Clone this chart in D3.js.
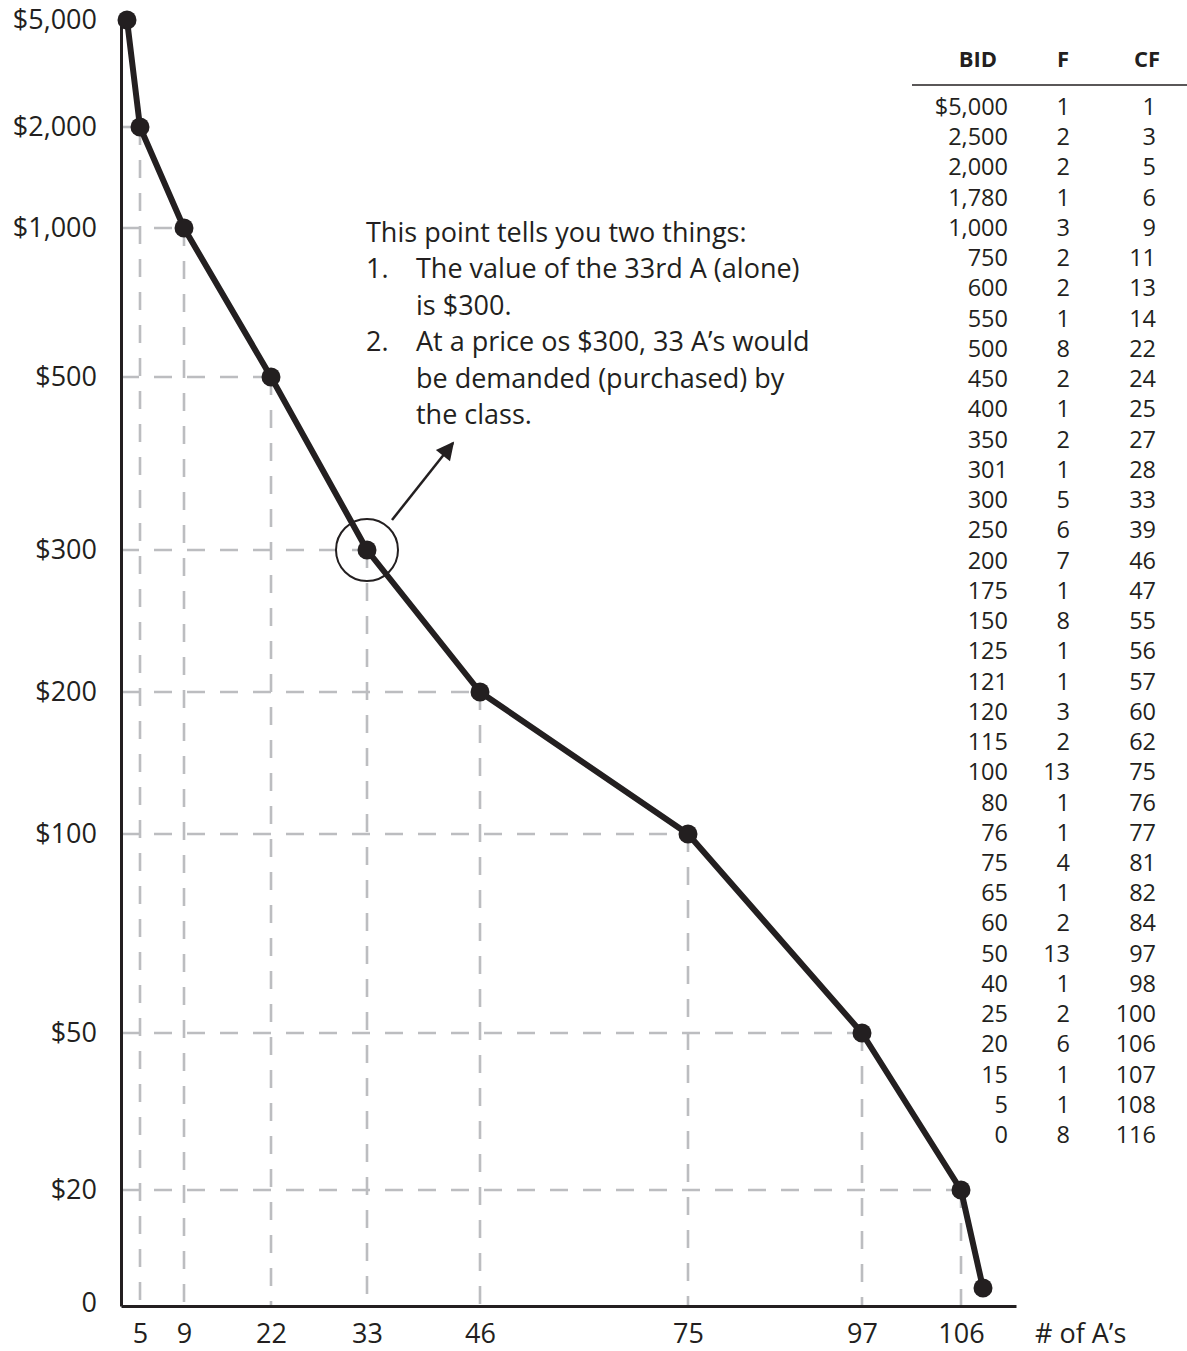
<!DOCTYPE html>
<html>
<head>
<meta charset="utf-8">
<script src="https://cdn.jsdelivr.net/npm/d3@7"></script>
<style>
  body { margin: 0; background: #fff; }
  svg text { font-family: "Open Sans", sans-serif; fill: #231f20; }
</style>
</head>
<body>
<div id="chart"></div>
<script>
// demand curve points (cumulative frequency vs bid)
const cfPoints = [1, 5, 9, 22, 33, 46, 75, 97, 106, 108];
const bidPoints = [5000, 2000, 1000, 500, 300, 200, 100, 50, 20, 5];

// axis ticks
const xTicks = [5, 9, 22, 33, 46, 75, 97, 106];
const yTicks = [0, 20, 50, 100, 200, 300, 500, 1000, 2000, 5000];

// table
const tableBids = ['$5,000', '2,500', '2,000', '1,780', '1,000', '750', '600', '550', '500', '450',
  '400', '350', '301', '300', '250', '200', '175', '150', '125', '121', '120', '115', '100',
  '80', '76', '75', '65', '60', '50', '40', '25', '20', '15', '5', '0'];
const tableF = [1, 2, 2, 1, 3, 2, 2, 1, 8, 2, 1, 2, 1, 5, 6, 7, 1, 8, 1, 1, 3, 2, 13,
  1, 1, 4, 1, 2, 13, 1, 2, 6, 1, 1, 8];
const tableCF = [1, 3, 5, 6, 9, 11, 13, 14, 22, 24, 25, 27, 28, 33, 39, 46, 47, 55, 56, 57,
  60, 62, 75, 76, 77, 81, 82, 84, 97, 98, 100, 106, 107, 108, 116];

const noteLines = [
  { num: '', text: 'This point tells you two things:' },
  { num: '1.', text: 'The value of the 33rd A (alone)' },
  { num: '', text: 'is $300.' },
  { num: '2.', text: 'At a price os $300, 33 A\u2019s would' },
  { num: '', text: 'be demanded (purchased) by' },
  { num: '', text: 'the class.' }
];

const width = 1187, height = 1351;
const ink = '#231f20', grid = '#bcbdc0';

const svg = d3.select('#chart').append('svg')
  .attr('width', width)
  .attr('height', height);

// the hand drawn axes are not evenly spaced, so use piecewise scales
const x = d3.scaleLinear()
  .domain([0, 1, 5, 9, 22, 33, 46, 75, 97, 106, 108, 116])
  .range([121, 127, 140, 184, 271, 367, 480, 688, 862, 961, 983, 1016]);
const y = d3.scaleLinear()
  .domain([0, 5, 20, 50, 100, 200, 300, 500, 1000, 2000, 5000])
  .range([1306, 1288, 1190, 1033, 834, 692, 550, 377, 228, 127, 20]);

const pts = cfPoints.map((c, i) => ({ x: c, y: bidPoints[i] }));
const guides = pts.slice(1, pts.length - 1);

// dashed guide lines
const g = svg.append('g');
g.selectAll('.hguide').data(guides).join('line')
  .attr('x1', x(0)).attr('x2', d => x(d.x))
  .attr('y1', d => y(d.y)).attr('y2', d => y(d.y))
  .attr('stroke', grid).attr('stroke-width', 2.6)
  .attr('stroke-dasharray', '18,15');
g.selectAll('.vguide').data(guides).join('line')
  .attr('x1', d => x(d.x)).attr('x2', d => x(d.x))
  .attr('y1', d => y(d.y)).attr('y2', y(0))
  .attr('stroke', grid).attr('stroke-width', 2.6)
  .attr('stroke-dasharray', '18,15');

// axes
const xAxis = svg.append('g')
  .attr('transform', `translate(0,${y(0)})`)
  .call(d3.axisBottom(x).tickValues(xTicks).tickSize(0).tickSizeOuter(0));
xAxis.select('.domain').attr('stroke', ink).attr('stroke-width', 3);
xAxis.selectAll('text')
  .attr('y', 37).attr('dy', null)
  .attr('font-size', 27).attr('fill', ink)
  .style('font-family', '"Open Sans", sans-serif');

const yAxis = svg.append('g')
  .attr('transform', `translate(${x(0)},0)`)
  .call(d3.axisLeft(y).tickValues(yTicks).tickSize(0).tickSizeOuter(0).tickPadding(24)
    .tickFormat(v => v === 0 ? '0' : '$' + d3.format(',')(v)));
yAxis.select('.domain').attr('stroke', ink).attr('stroke-width', 3);
yAxis.selectAll('text')
  .attr('font-size', 27).attr('fill', ink)
  .style('font-family', '"Open Sans", sans-serif');
yAxis.selectAll('.tick').filter(d => d === 0).select('text').attr('dy', '0.2em');

svg.append('text')
  .attr('x', 1035).attr('y', 1343)
  .attr('font-size', 27)
  .text('# of A\u2019s');

// demand line and points
const line = d3.line().x(d => x(d.x)).y(d => y(d.y));
svg.append('path')
  .datum(pts)
  .attr('fill', 'none')
  .attr('stroke', ink)
  .attr('stroke-width', 6)
  .attr('stroke-linejoin', 'round')
  .attr('d', line);
svg.selectAll('.pt').data(pts).join('circle')
  .attr('cx', d => x(d.x)).attr('cy', d => y(d.y))
  .attr('r', 9.5).attr('fill', ink);

// highlight circle around the 33rd A
svg.append('circle')
  .attr('cx', x(33)).attr('cy', y(300))
  .attr('r', 31)
  .attr('fill', 'none').attr('stroke', ink).attr('stroke-width', 2);

// arrow
svg.append('defs').append('marker')
  .attr('id', 'arrow')
  .attr('viewBox', '0 0 10 10')
  .attr('refX', 9).attr('refY', 5)
  .attr('markerWidth', 22).attr('markerHeight', 18)
  .attr('markerUnits', 'userSpaceOnUse')
  .attr('orient', 'auto')
  .append('path')
  .attr('d', 'M0,0 L10,5 L0,10 Z')
  .attr('fill', ink);
svg.append('line')
  .attr('x1', 392).attr('y1', 520)
  .attr('x2', 453).attr('y2', 443)
  .attr('stroke', ink).attr('stroke-width', 2.5)
  .attr('marker-end', 'url(#arrow)');

// annotation
const note = svg.append('g').attr('font-size', 27);
note.selectAll('.num').data(noteLines).join('text')
  .attr('x', 366).attr('y', (d, i) => 242 + i * 36.4)
  .text(d => d.num);
note.selectAll('.line').data(noteLines).join('text')
  .attr('x', (d, i) => i === 0 ? 366 : 416)
  .attr('y', (d, i) => 242 + i * 36.4)
  .text(d => d.text);

// frequency table
const tbl = svg.append('g').attr('font-size', 23.5);
const headers = [{ t: 'BID', x: 997 }, { t: 'F', x: 1069 }, { t: 'CF', x: 1160 }];
tbl.selectAll('.hdr').data(headers).join('text')
  .attr('x', d => d.x).attr('y', 67)
  .attr('text-anchor', 'end')
  .attr('font-weight', 'bold')
  .attr('font-size', 22)
  .text(d => d.t);
tbl.append('line')
  .attr('x1', 912).attr('x2', 1187)
  .attr('y1', 85).attr('y2', 85)
  .attr('stroke', ink).attr('stroke-width', 1.5);
const rowY = i => 115 + i * 30.24;
tbl.selectAll('.bid').data(tableBids).join('text')
  .attr('x', 1008).attr('y', (d, i) => rowY(i))
  .attr('text-anchor', 'end').text(d => d);
tbl.selectAll('.f').data(tableF).join('text')
  .attr('x', 1070).attr('y', (d, i) => rowY(i))
  .attr('text-anchor', 'end').text(d => d);
tbl.selectAll('.cf').data(tableCF).join('text')
  .attr('x', 1156).attr('y', (d, i) => rowY(i))
  .attr('text-anchor', 'end').text(d => d);
</script>
</body>
</html>
